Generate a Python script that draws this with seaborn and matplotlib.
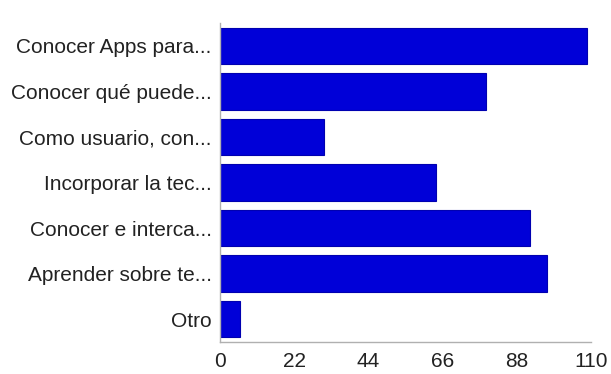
import matplotlib
matplotlib.use("Agg")
import matplotlib.pyplot as plt
import seaborn as sns
import pandas as pd

categories = ["Conocer Apps para...", "Conocer qué puede...", "Como usuario, con...",
              "Incorporar la tec...", "Conocer e interca...", "Aprender sobre te...", "Otro"]
values = [109, 79, 31, 64, 92, 97, 6]
xticks = [0, 22, 44, 66, 88, 110]

sns.set_style("white")
plt.rcParams['font.family'] = ['Liberation Sans', 'DejaVu Sans']

df = pd.DataFrame({"cat": categories, "val": values})
fig = plt.figure(figsize=(6.11, 3.74), dpi=100)
fig.patch.set_facecolor("white")
ax = fig.add_axes([0.36, 0.086, 0.607, 0.852])
sns.barplot(data=df, x="val", y="cat", orient="h", color="#0000d8", saturation=1,
            width=0.8, ax=ax, edgecolor="#0000b0", linewidth=0.8)
ax.set_xlim(0, 110)
ax.set_ylim(6.5, -0.5)
ax.set_xticks(xticks)
ax.set_xticklabels([str(t) for t in xticks])
ax.set_xlabel("")
ax.set_ylabel("")
for s in ["top", "right"]:
    ax.spines[s].set_visible(False)
for s in ["left", "bottom"]:
    ax.spines[s].set_color("#b0b0b0")
    ax.spines[s].set_linewidth(1)
ax.tick_params(axis="both", which="both", length=4, color="#b0b0b0", width=1,
               labelsize=15, labelcolor="#222222", pad=2)
ax.tick_params(axis="x", pad=3)
fig.savefig("out.png", dpi=100, facecolor="white")
